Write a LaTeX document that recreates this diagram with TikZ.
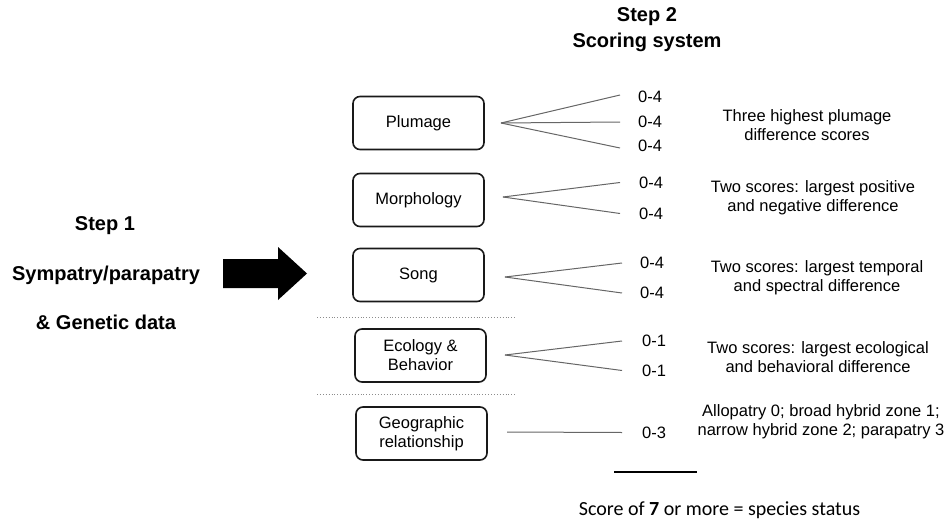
\documentclass[tikz,border=0pt]{standalone}
\usepackage{fontspec}
\setmainfont{Liberation Sans}
\newfontfamily\calib{Carlito}
\begin{document}
\begin{tikzpicture}[x=1pt,y=-1pt,
  box/.style={draw=black!90, line width=1.6pt, rounded corners=7pt, minimum width=131pt, minimum height=53pt, align=center, inner sep=0pt, font=\fontsize{16.5}{19}\selectfont},
  lbl/.style={anchor=west, inner sep=0pt, font=\fontsize{16.5}{19}\selectfont},
  desc/.style={align=center, inner sep=0pt, font=\fontsize{16.5}{19}\selectfont},
  stepttl/.style={align=center, inner sep=0pt, font=\bfseries\fontsize{20}{25}\selectfont},
  fan/.style={draw=black!60, line width=1pt},
  sep/.style={draw=black!45, line width=0.9pt, dotted}]
\useasboundingbox (0,0) rectangle (951,522);
% titles
\node[stepttl] (s2a) at (647,17) {Step 2};
\node[stepttl] (s2b) at (647,42) {Scoring system};
\node[stepttl] (s1a) at (105,226) {Step 1};
\node[stepttl] (s1b) at (106,275) {Sympatry/parapatry};
\node[stepttl] (s1c) at (106,322) {\& Genetic data};
% big arrow
\fill[black] (223,259) -- (278,259) -- (278,247) -- (307,273.5) -- (278,300) -- (278,288) -- (223,288) -- cycle;
% boxes
\node[box] (plu) at (418.5,123) {Plumage};
\node[box] (mor) at (418.5,200) {Morphology};
\node[box] (son) at (418.5,275) {Song};
\node[box] (eco) at (420.5,355.5) {Ecology \&\\Behavior};
\node[box] (geo) at (421.5,433.5) {Geographic\\relationship};
% separators
\coordinate (d1a) at (317,317); \coordinate (d1b) at (517,317);
\coordinate (d2a) at (317,394); \coordinate (d2b) at (517,394);
\draw[sep] (d1a) -- (d1b);
\draw[sep] (d2a) -- (d2b);
% score labels
\node[lbl] (p1) at (638,97) {0-4};
\node[lbl] (p2) at (638,122) {0-4};
\node[lbl] (p3) at (638,146) {0-4};
\node[lbl] (m1) at (639,182.5) {0-4};
\node[lbl] (m2) at (639,213.5) {0-4};
\node[lbl] (g1) at (640,263) {0-4};
\node[lbl] (g2) at (640,293) {0-4};
\node[lbl] (e1) at (642,341) {0-1};
\node[lbl] (e2) at (642,370.5) {0-1};
\node[lbl] (r1) at (642,432.5) {0-3};
% apexes
\coordinate (pa) at (501,123);
\coordinate (ma) at (503,197);
\coordinate (ga) at (505,277);
\coordinate (ea) at (505,355);
\coordinate (ra) at (507,432);
% fans
\draw[fan] (pa) -- ([xshift=-18pt,yshift=2pt]p1.west);
\draw[fan] (pa) -- ([xshift=-18pt]p2.west);
\draw[fan] (pa) -- ([xshift=-18pt,yshift=-2pt]p3.west);
\draw[fan] (ma) -- ([xshift=-19pt]m1.west);
\draw[fan] (ma) -- ([xshift=-19pt]m2.west);
\draw[fan] (ga) -- ([xshift=-18pt]g1.west);
\draw[fan] (ga) -- ([xshift=-18pt]g2.west);
\draw[fan] (ea) -- ([xshift=-20pt]e1.west);
\draw[fan] (ea) -- ([xshift=-20pt]e2.west);
\draw[fan] (ra) -- ([xshift=-20pt]r1.west);
% descriptions
\node[desc] (dp) at (807,125.5) {Three highest plumage\\difference scores};
\node[desc] (dm) at (813,197.5) {Two scores: largest positive\\and negative difference};
\node[desc] (dg) at (817,277.5) {Two scores: largest temporal\\and spectral difference};
\node[desc] (de) at (818,357.5) {Two scores: largest ecological\\and behavioral difference};
\node[desc] (dr) at (821,421.5) {Allopatry 0; broad hybrid zone 1;\\narrow hybrid zone 2; parapatry 3};
% sum line and result
\coordinate (sl) at (614,472); \coordinate (sr) at (697,472);
\draw[black, line width=2pt] (sl) -- (sr);
\node[inner sep=0pt, font=\calib\fontsize{20}{24}\selectfont] (res) at (719.5,510) {Score of \textbf{7} or more = species status};
\end{tikzpicture}
\end{document}
